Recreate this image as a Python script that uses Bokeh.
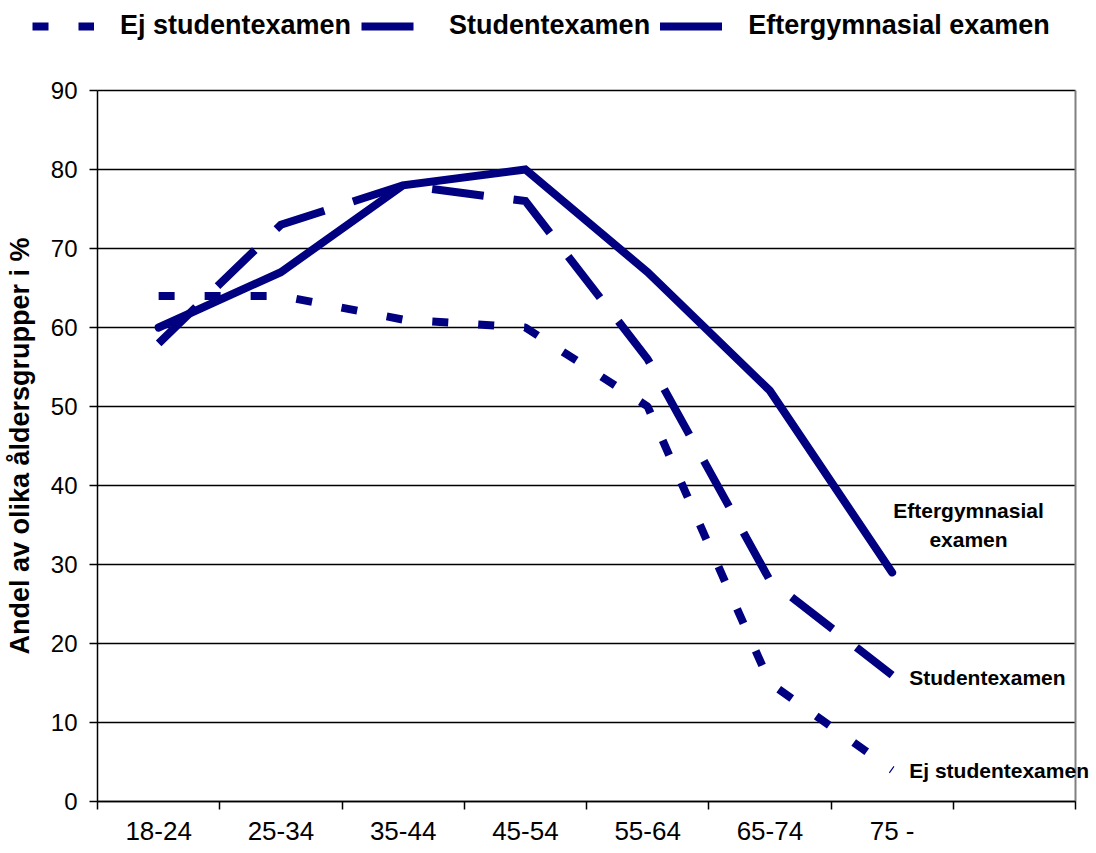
from bokeh.plotting import figure
from bokeh.models import Range1d, FixedTicker, Legend, LegendItem, Label
from bokeh.embed import file_html
from bokeh.resources import INLINE

categories = ["18-24", "25-34", "35-44", "45-54", "55-64", "65-74", "75 -"]
ej_student = [64, 64, 61, 60, 50, 15, 4]
studentexamen = [58, 73, 78, 76, 56, 28, 16]
eftergymnasial = [60, 67, 78, 80, 67, 52, 29]
series_names = ["Ej studentexamen", "Studentexamen", "Eftergymnasial examen"]
y_ticks = list(range(0, 91, 10))

NAVY = "#000080"
FONT = "Liberation Sans"
W, H = 1092, 850
# plot box in page pixels: left 97, right 1075, top 90, bottom 801
BOX_L, BOX_R, BOX_T, BOX_B = 97, 1075, 90, 801
Y_MAX = 90

xs = [i + 0.5 for i in range(len(categories))]
n_slots = len(categories) + 1          # one empty slot at the right

px_x = (BOX_R - BOX_L) / n_slots
px_y = (BOX_B - BOX_T) / Y_MAX
x_range = Range1d(-BOX_L / px_x, (W - BOX_L) / px_x)
y_range = Range1d(-(H - BOX_B) / px_y, Y_MAX + BOX_T / px_y)

p = figure(width=W, height=H, x_range=x_range, y_range=y_range,
           output_backend="svg", toolbar_location=None,
           min_border_left=0, min_border_top=0,
           min_border_right=0, min_border_bottom=0,
           background_fill_color="white", border_fill_color="white")
p.outline_line_color = None

g = p.ygrid[0]
g.grid_line_color = "black"
g.grid_line_width = 1.5
g.cross_bounds = (0, n_slots)
p.xgrid.visible = False

# right border of the plot box
p.segment(x0=[n_slots], y0=[0], x1=[n_slots], y1=[Y_MAX],
          line_color="#808080", line_width=2)

# x axis: labels at category centres, ticks at boundaries
p.xaxis.fixed_location = 0
p.xaxis.bounds = (0, n_slots)
p.xaxis.ticker = FixedTicker(ticks=xs, minor_ticks=list(range(n_slots + 1)))
p.xaxis.major_label_overrides = {x: c for x, c in zip(xs, categories)}
p.xaxis.major_tick_out = 0
p.xaxis.major_tick_in = 0
p.xaxis.minor_tick_out = 8
p.xaxis.minor_tick_in = 0
p.xaxis.minor_tick_line_color = "black"
p.xaxis.minor_tick_line_width = 1.5
p.xaxis.axis_line_color = "black"
p.xaxis.axis_line_width = 1.5
p.xaxis.major_label_standoff = 6
p.xaxis.major_label_text_font = FONT
p.xaxis.major_label_text_font_size = "26px"
p.xaxis.major_label_text_color = "black"

# y axis
p.yaxis.fixed_location = 0
p.yaxis.bounds = (0, Y_MAX)
p.yaxis.ticker = FixedTicker(ticks=y_ticks)
p.yaxis.minor_tick_line_color = None
p.yaxis.major_tick_out = 8
p.yaxis.major_tick_in = 0
p.yaxis.major_tick_line_color = "black"
p.yaxis.major_tick_line_width = 1.5
p.yaxis.axis_line_color = "black"
p.yaxis.axis_line_width = 1.5
p.yaxis.major_label_standoff = 12
p.yaxis.major_label_text_font = FONT
p.yaxis.major_label_text_font_size = "24px"
p.yaxis.major_label_text_color = "black"
p.yaxis.axis_label = "Andel av olika åldersgrupper i %"
p.yaxis.axis_label_text_font = FONT
p.yaxis.axis_label_text_font_size = "27px"
p.yaxis.axis_label_text_font_style = "bold"
p.yaxis.axis_label_text_color = "black"
p.yaxis.axis_label_standoff = 13

styles = [dict(line_dash="16 30"),
          dict(line_dash="52 30", line_join="miter"),
          dict(line_cap="round", line_join="miter")]
items = []
for name, vals, st in zip(series_names,
                          [ej_student, studentexamen, eftergymnasial], styles):
    r = p.line(xs, vals, line_color=NAVY, line_width=8, **st)
    items.append(LegendItem(label=name, renderers=[r]))

legend = Legend(items=items, orientation="horizontal", location=(32, H - 41),
                glyph_width=62, glyph_height=20, label_standoff=26, spacing=10,
                padding=0, margin=0, label_height=30,
                label_text_font=FONT, label_text_font_size="27px",
                label_text_font_style="bold", label_text_color="black",
                background_fill_alpha=0, border_line_alpha=0)
p.add_layout(legend)

lab_kw = dict(text_font=FONT, text_font_style="bold", text_font_size="21px",
              text_color="black", text_baseline="middle")
p.add_layout(Label(x=xs[-1] + 0.625, y=eftergymnasial[-1] + 6.0,
                   text="Eftergymnasial\nexamen", text_align="center",
                   text_line_height=1.3, **lab_kw))
p.add_layout(Label(x=xs[-1] + 0.14, y=studentexamen[-1] - 0.3,
                   text="Studentexamen", text_align="left", **lab_kw))
p.add_layout(Label(x=xs[-1] + 0.14, y=ej_student[-1] - 0.1,
                   text="Ej studentexamen", text_align="left", **lab_kw))

open("out.html", "w").write(file_html(p, INLINE))
